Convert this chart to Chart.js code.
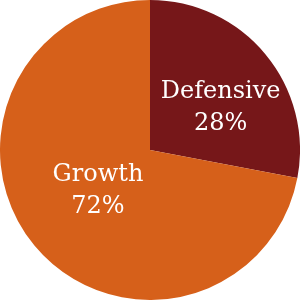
<!DOCTYPE html>
<html>
<head>
<meta charset="utf-8">
<script src="https://cdn.jsdelivr.net/npm/chart.js"></script>
<style>
    html, body { margin: 0; padding: 0; background: #ffffff; }
    #wrap { width: 300px; height: 300px; }
</style>
</head>
<body>
<div id="wrap"><canvas id="pieChart" width="300" height="300"></canvas></div>
<script>
// chart data
const categories = ["Defensive", "Growth"];
const shares = [28, 72];
const sliceColors = ["#761719", "#d6601a"];

// label placement: fraction of radius along the slice middle, then small nudge
const labelRadius = [0.62, 0.45];
const labelNudge = [[-1, 15], [0, -4]];

// draws "Name / NN%" inside each slice
const sliceLabels = {
    id: "sliceLabels",
    afterDatasetsDraw(chart) {
        const ctx = chart.ctx;
        const meta = chart.getDatasetMeta(0);
        meta.data.forEach(function (arc, i) {
            const p = arc.getProps(["x", "y", "startAngle", "endAngle", "outerRadius"], true);
            const mid = (p.startAngle + p.endAngle) / 2;
            const r = p.outerRadius * labelRadius[i];
            const x = p.x + Math.cos(mid) * r + labelNudge[i][0];
            const y = p.y + Math.sin(mid) * r + labelNudge[i][1];
            ctx.save();
            ctx.fillStyle = "#ffffff";
            ctx.font = "24px 'DejaVu Serif'";
            ctx.textAlign = "center";
            ctx.textBaseline = "alphabetic";
            ctx.fillText(categories[i], x, y - 8);
            ctx.fillText(shares[i] + "%", x, y + 24);
            ctx.restore();
        });
    }
};

new Chart(document.getElementById("pieChart").getContext("2d"), {
    type: "pie",
    data: {
        labels: categories,
        datasets: [{
            data: shares,
            backgroundColor: sliceColors,
            borderWidth: 0
        }]
    },
    options: {
        responsive: false,
        animation: false,
        layout: { padding: 0 },
        plugins: {
            legend: { display: false },
            tooltip: { enabled: false }
        }
    },
    plugins: [sliceLabels]
});
</script>
</body>
</html>
